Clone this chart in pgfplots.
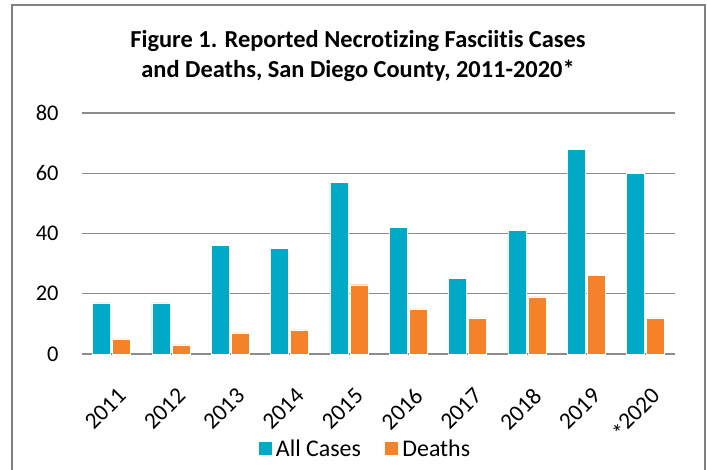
\documentclass[border=0pt]{standalone}
\usepackage{pgfplots}
\pgfplotsset{compat=1.18}
\usepackage{fontspec}
\setmainfont{Carlito}[Ligatures={NoCommon}]
\definecolor{teal}{RGB}{0,169,198}
\definecolor{orng}{RGB}{245,130,41}
\definecolor{gridgray}{RGB}{140,140,140}
\definecolor{framegray}{RGB}{128,128,128}
\begin{document}
\begin{tikzpicture}[x=1bp,y=1bp]
\useasboundingbox (0,0) rectangle (707,470);
\draw[framegray, line width=1.5bp] (12,-10) -- (12,465) -- (705,465) -- (705,-10);
\node[font=\bfseries\fontsize{24.5}{31}\selectfont, align=center] at (358,414) {Figure 1. Reported Necrotizing Fasciitis Cases\\and Deaths, San Diego County, 2011-2020*};
\begin{axis}[
  at={(82bp,116bp)}, anchor=south west,
  scale only axis, width=593bp, height=241bp,
  xmin=-0.5, xmax=9.5, ymin=0, ymax=80,
  ybar=2bp, bar width=18bp,
  axis x line*=bottom, axis y line*=left,
  y axis line style={draw=none},
  x axis line style={gridgray, line width=1.3bp, -},
  ymajorgrids, grid style={gridgray, line width=1.3bp},
  ytick={0,20,40,60,80},
  xtick={0,...,9},
  xticklabels={2011,2012,2013,2014,2015,2016,2017,2018,2019,\raisebox{-0.35ex}{*}2020},
  major tick length=0pt,
  yticklabel style={font=\fontsize{22.5}{24}\selectfont, xshift=-20bp},
  /pgf/number format/assume math mode=true,
  xticklabel style={font=\fontsize{23.5}{24}\selectfont, rotate=45, anchor=north east, xshift=-16bp, yshift=-23bp},
  legend style={at={(0.477,-0.394)}, anchor=center, draw=none, legend columns=2,
    font=\fontsize{24}{26}\selectfont, /tikz/every even column/.append style={column sep=21bp}},
  legend image code/.code={\fill[#1] (-9bp,-6bp) rectangle (5bp,8bp);},
  clip=false,
]
\addplot[fill=teal, draw=white, line width=0.4bp] coordinates {(0,17) (1,17) (2,36) (3,35) (4,57) (5,42) (6,25) (7,41) (8,68) (9,60)};
\addplot[fill=orng, draw=white, line width=0.4bp] coordinates {(0,5) (1,3) (2,7) (3,8) (4,23) (5,15) (6,12) (7,19) (8,26) (9,12)};
\legend{\hspace{2bp}All Cases, \hspace{2bp}Deaths}
\end{axis}
\end{tikzpicture}
\end{document}
